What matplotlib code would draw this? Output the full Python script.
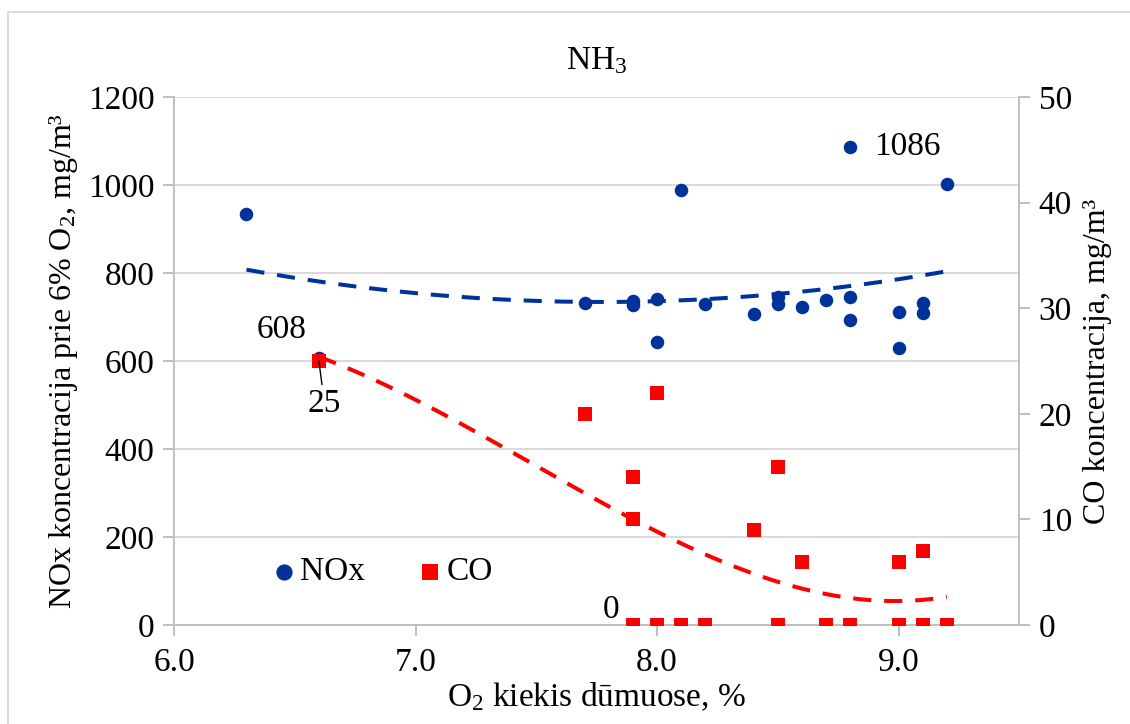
import numpy as np
import matplotlib
matplotlib.use("Agg")
import matplotlib.pyplot as plt
from matplotlib.lines import Line2D

plt.rcParams["font.family"] = ["Liberation Serif", "DejaVu Serif"]
plt.rcParams["mathtext.fontset"] = "custom"
plt.rcParams["mathtext.rm"] = "Liberation Serif"
plt.rcParams["mathtext.it"] = "Liberation Serif:italic"

# NOx measurements (mg/m3 at 6% O2) vs O2 in flue gas (%)
nox_o2 = [6.3, 6.6, 7.7, 7.9, 7.9, 8.0, 8.0, 8.1, 8.2, 8.4, 8.5, 8.5,
          8.6, 8.7, 8.8, 8.8, 8.8, 9.0, 9.0, 9.1, 9.1, 9.2]
nox_val = [933, 608, 731, 736, 727, 742, 643, 989, 729, 708, 746, 729,
           723, 739, 1086, 745, 694, 712, 629, 732, 710, 1002]

# CO measurements (mg/m3) vs O2 in flue gas (%)
co_o2 = [6.6, 7.7, 7.9, 7.9, 7.9, 8.0, 8.0, 8.1, 8.2, 8.4, 8.5, 8.5,
         8.6, 8.7, 8.8, 9.0, 9.0, 9.1, 9.1, 9.2]
co_val = [25, 20, 14, 10, 0, 22, 0, 0, 0, 9, 15, 0,
          6, 0, 0, 6, 0, 7, 0, 0]

x_ticks = [6.0, 7.0, 8.0, 9.0]
nox_ticks = [0, 200, 400, 600, 800, 1000, 1200]
co_ticks = [0, 10, 20, 30, 40, 50]

BLUE = "#003399"
RED = "#FF0000"
GRID = "#D9D9D9"
SPINE = "#BFBFBF"
FS = 24
FS_Y = 23

fig = plt.figure(figsize=(11.30, 7.24), dpi=100)
ax = fig.add_axes([0.154, 0.1367, 0.748, 0.7293])
ax2 = ax.twinx()

# polynomial trendlines
xn = np.linspace(min(nox_o2), max(nox_o2), 200)
pn = np.polyfit(nox_o2, nox_val, 2)
xc = np.linspace(min(co_o2), max(co_o2), 200)
pc = np.polyfit(co_o2, co_val, 3)

ax.plot(xn, np.polyval(pn, xn), color=BLUE, lw=2.9, dashes=(4.5, 3.2), zorder=2)
ax.scatter(nox_o2, nox_val, s=95, color=BLUE, marker="o", linewidths=0,
           zorder=3, label="NOx")
ax2.plot(xc, np.polyval(pc, xc), color=RED, lw=2.9, dashes=(4.5, 3.2), zorder=2)
ax2.scatter(co_o2, co_val, s=95, color=RED, marker="s", linewidths=0,
            zorder=3, label="CO")

ax.set_xlim(6.0, 9.5)
ax.set_ylim(0, 1200)
ax2.set_ylim(0, 50)
ax.set_xticks(x_ticks)
ax.set_xticklabels([f"{v:.1f}" for v in x_ticks])
ax.set_yticks(nox_ticks)
ax2.set_yticks(co_ticks)

ax.grid(axis="y", color=GRID, lw=1.4)
ax.set_axisbelow(True)

for a in (ax, ax2):
    a.spines["top"].set_visible(False)
    for side in ("left", "right", "bottom"):
        a.spines[side].set_color(SPINE)
        a.spines[side].set_linewidth(1.4)
    a.tick_params(colors=SPINE, labelcolor="black", labelsize=FS,
                  length=8, width=1.4, direction="out")
ax.spines["right"].set_visible(False)
ax2.spines["left"].set_visible(False)
ax2.spines["bottom"].set_visible(False)
ax.tick_params(axis="x", pad=8)
ax.tick_params(axis="y", pad=6)
ax2.tick_params(axis="y", pad=6)

ax.set_xlabel("O$_2$ kiekis dūmuose, %", fontsize=FS, labelpad=2)
ax.set_ylabel("NOx koncentracija prie 6% O$_2$, mg/m³", fontsize=FS_Y, labelpad=6)
ax2.set_ylabel("CO koncentracija, mg/m³", fontsize=FS_Y, labelpad=8)
ax.set_title("NH$_3$", fontsize=FS, pad=20)

# data labels
i608 = nox_val.index(608)
ax.annotate("608", xy=(nox_o2[i608], nox_val[i608]), xytext=(-27, 20),
            textcoords="offset points", ha="center", va="center", fontsize=FS)
i1086 = nox_val.index(1086)
ax.annotate("1086", xy=(nox_o2[i1086], nox_val[i1086]), xytext=(17, 0),
            textcoords="offset points", ha="left", va="center", fontsize=FS)
i25 = co_val.index(25)
ax2.annotate("25", xy=(co_o2[i25], co_val[i25]), xytext=(4, -31),
             textcoords="offset points", ha="center", va="center", fontsize=FS,
             arrowprops=dict(arrowstyle="-", color="black", lw=1.0,
                             shrinkA=1, shrinkB=0))
i0 = co_val.index(0)
ax2.annotate("0", xy=(co_o2[i0], co_val[i0]), xytext=(-10, 11),
             textcoords="offset points", ha="right", va="center", fontsize=FS)

# legend inside the plot
h1, l1 = ax.get_legend_handles_labels()
h2, l2 = ax2.get_legend_handles_labels()
ax2.legend(h1 + h2, l1 + l2, loc="center left", bbox_to_anchor=(0.106, 0.1),
           ncol=2, frameon=False, fontsize=FS, handletextpad=-0.1,
           handlelength=1.2, columnspacing=1.35, markerscale=1.2,
           borderaxespad=0, borderpad=0)

# outer chart frame
fig.add_artist(Line2D([8 / 1130, 8 / 1130], [0, 1 - 12 / 724],
                      transform=fig.transFigure, color=GRID, lw=1.4))
fig.add_artist(Line2D([8 / 1130, 1], [1 - 12 / 724, 1 - 12 / 724],
                      transform=fig.transFigure, color=GRID, lw=1.4))

fig.savefig("out.png", dpi=100)
